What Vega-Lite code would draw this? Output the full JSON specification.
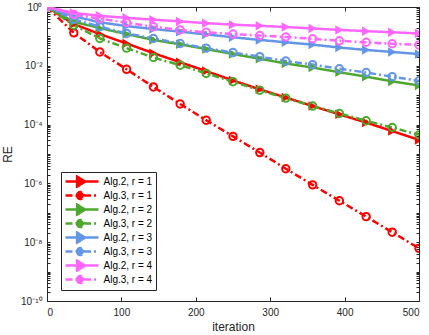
{
  "$schema": "https://vega.github.io/schema/vega-lite/v6.json",
  "width": 372,
  "height": 294,
  "autosize": "none",
  "padding": {"left": 47, "top": 7, "right": 10, "bottom": 34},
  "background": "white",
  "config": {
    "view": {"stroke": "#262626", "strokeWidth": 1},
    "font": "Liberation Sans",
    "axis": {"labelFont": "Liberation Sans", "titleFont": "Liberation Sans", "labelColor": "#262626", "titleColor": "#262626", "tickColor": "#262626", "grid": false, "domain": false, "labelFontSize": 10, "titleFontSize": 12, "titleFontWeight": "normal", "labelOverlap": false}
  },
  "data": {"values": [
    {"s":"Alg.2, r = 1","a":2,"i":0,"v":1},{"s":"Alg.2, r = 1","a":2,"i":36,"v":0.263},{"s":"Alg.2, r = 1","a":2,"i":71,"v":0.12},{"s":"Alg.2, r = 1","a":2,"i":107,"v":0.0575},{"s":"Alg.2, r = 1","a":2,"i":143,"v":0.0269},{"s":"Alg.2, r = 1","a":2,"i":179,"v":0.0132},{"s":"Alg.2, r = 1","a":2,"i":214,"v":0.00661},{"s":"Alg.2, r = 1","a":2,"i":250,"v":0.00316},{"s":"Alg.2, r = 1","a":2,"i":286,"v":0.00158},{"s":"Alg.2, r = 1","a":2,"i":321,"v":0.000832},{"s":"Alg.2, r = 1","a":2,"i":357,"v":0.000427},{"s":"Alg.2, r = 1","a":2,"i":393,"v":0.000224},{"s":"Alg.2, r = 1","a":2,"i":429,"v":0.000117},{"s":"Alg.2, r = 1","a":2,"i":464,"v":0.0000603},{"s":"Alg.2, r = 1","a":2,"i":500,"v":0.0000302},
    {"s":"Alg.3, r = 1","a":3,"i":0,"v":1},{"s":"Alg.3, r = 1","a":3,"i":36,"v":0.132},{"s":"Alg.3, r = 1","a":3,"i":71,"v":0.0295},{"s":"Alg.3, r = 1","a":3,"i":107,"v":0.00759},{"s":"Alg.3, r = 1","a":3,"i":143,"v":0.00191},{"s":"Alg.3, r = 1","a":3,"i":179,"v":0.000501},{"s":"Alg.3, r = 1","a":3,"i":214,"v":0.000141},{"s":"Alg.3, r = 1","a":3,"i":250,"v":0.0000398},{"s":"Alg.3, r = 1","a":3,"i":286,"v":0.0000112},{"s":"Alg.3, r = 1","a":3,"i":321,"v":0.00000316},{"s":"Alg.3, r = 1","a":3,"i":357,"v":8.91e-7},{"s":"Alg.3, r = 1","a":3,"i":393,"v":2.57e-7},{"s":"Alg.3, r = 1","a":3,"i":429,"v":7.41e-8},{"s":"Alg.3, r = 1","a":3,"i":464,"v":2.19e-8},{"s":"Alg.3, r = 1","a":3,"i":500,"v":6.17e-9},
    {"s":"Alg.2, r = 2","a":2,"i":0,"v":1},{"s":"Alg.2, r = 2","a":2,"i":36,"v":0.316},{"s":"Alg.2, r = 2","a":2,"i":71,"v":0.191},{"s":"Alg.2, r = 2","a":2,"i":107,"v":0.12},{"s":"Alg.2, r = 2","a":2,"i":143,"v":0.0759},{"s":"Alg.2, r = 2","a":2,"i":179,"v":0.0537},{"s":"Alg.2, r = 2","a":2,"i":214,"v":0.0372},{"s":"Alg.2, r = 2","a":2,"i":250,"v":0.0251},{"s":"Alg.2, r = 2","a":2,"i":286,"v":0.0174},{"s":"Alg.2, r = 2","a":2,"i":321,"v":0.012},{"s":"Alg.2, r = 2","a":2,"i":357,"v":0.00871},{"s":"Alg.2, r = 2","a":2,"i":393,"v":0.00603},{"s":"Alg.2, r = 2","a":2,"i":429,"v":0.00427},{"s":"Alg.2, r = 2","a":2,"i":464,"v":0.00295},{"s":"Alg.2, r = 2","a":2,"i":500,"v":0.00214},
    {"s":"Alg.3, r = 2","a":3,"i":0,"v":1},{"s":"Alg.3, r = 2","a":3,"i":36,"v":0.24},{"s":"Alg.3, r = 2","a":3,"i":71,"v":0.0851},{"s":"Alg.3, r = 2","a":3,"i":107,"v":0.0398},{"s":"Alg.3, r = 2","a":3,"i":143,"v":0.0191},{"s":"Alg.3, r = 2","a":3,"i":179,"v":0.0105},{"s":"Alg.3, r = 2","a":3,"i":214,"v":0.0055},{"s":"Alg.3, r = 2","a":3,"i":250,"v":0.00288},{"s":"Alg.3, r = 2","a":3,"i":286,"v":0.00148},{"s":"Alg.3, r = 2","a":3,"i":321,"v":0.000794},{"s":"Alg.3, r = 2","a":3,"i":357,"v":0.000427},{"s":"Alg.3, r = 2","a":3,"i":393,"v":0.00024},{"s":"Alg.3, r = 2","a":3,"i":429,"v":0.000135},{"s":"Alg.3, r = 2","a":3,"i":464,"v":0.0000794},{"s":"Alg.3, r = 2","a":3,"i":500,"v":0.0000447},
    {"s":"Alg.2, r = 3","a":2,"i":0,"v":1},{"s":"Alg.2, r = 3","a":2,"i":36,"v":0.479},{"s":"Alg.2, r = 3","a":2,"i":71,"v":0.302},{"s":"Alg.2, r = 3","a":2,"i":107,"v":0.224},{"s":"Alg.2, r = 3","a":2,"i":143,"v":0.178},{"s":"Alg.2, r = 3","a":2,"i":179,"v":0.145},{"s":"Alg.2, r = 3","a":2,"i":214,"v":0.117},{"s":"Alg.2, r = 3","a":2,"i":250,"v":0.0933},{"s":"Alg.2, r = 3","a":2,"i":286,"v":0.0759},{"s":"Alg.2, r = 3","a":2,"i":321,"v":0.0631},{"s":"Alg.2, r = 3","a":2,"i":357,"v":0.0525},{"s":"Alg.2, r = 3","a":2,"i":393,"v":0.0417},{"s":"Alg.2, r = 3","a":2,"i":429,"v":0.0347},{"s":"Alg.2, r = 3","a":2,"i":464,"v":0.0295},{"s":"Alg.2, r = 3","a":2,"i":500,"v":0.0251},
    {"s":"Alg.3, r = 3","a":3,"i":0,"v":1},{"s":"Alg.3, r = 3","a":3,"i":36,"v":0.38},{"s":"Alg.3, r = 3","a":3,"i":71,"v":0.214},{"s":"Alg.3, r = 3","a":3,"i":107,"v":0.126},{"s":"Alg.3, r = 3","a":3,"i":143,"v":0.0851},{"s":"Alg.3, r = 3","a":3,"i":179,"v":0.0575},{"s":"Alg.3, r = 3","a":3,"i":214,"v":0.0398},{"s":"Alg.3, r = 3","a":3,"i":250,"v":0.0282},{"s":"Alg.3, r = 3","a":3,"i":286,"v":0.0204},{"s":"Alg.3, r = 3","a":3,"i":321,"v":0.0145},{"s":"Alg.3, r = 3","a":3,"i":357,"v":0.011},{"s":"Alg.3, r = 3","a":3,"i":393,"v":0.00794},{"s":"Alg.3, r = 3","a":3,"i":429,"v":0.00589},{"s":"Alg.3, r = 3","a":3,"i":464,"v":0.00427},{"s":"Alg.3, r = 3","a":3,"i":500,"v":0.00309},
    {"s":"Alg.2, r = 4","a":2,"i":0,"v":1},{"s":"Alg.2, r = 4","a":2,"i":36,"v":0.631},{"s":"Alg.2, r = 4","a":2,"i":71,"v":0.501},{"s":"Alg.2, r = 4","a":2,"i":107,"v":0.427},{"s":"Alg.2, r = 4","a":2,"i":143,"v":0.372},{"s":"Alg.2, r = 4","a":2,"i":179,"v":0.324},{"s":"Alg.2, r = 4","a":2,"i":214,"v":0.282},{"s":"Alg.2, r = 4","a":2,"i":250,"v":0.251},{"s":"Alg.2, r = 4","a":2,"i":286,"v":0.229},{"s":"Alg.2, r = 4","a":2,"i":321,"v":0.209},{"s":"Alg.2, r = 4","a":2,"i":357,"v":0.186},{"s":"Alg.2, r = 4","a":2,"i":393,"v":0.166},{"s":"Alg.2, r = 4","a":2,"i":429,"v":0.151},{"s":"Alg.2, r = 4","a":2,"i":464,"v":0.138},{"s":"Alg.2, r = 4","a":2,"i":500,"v":0.126},
    {"s":"Alg.3, r = 4","a":3,"i":0,"v":1},{"s":"Alg.3, r = 4","a":3,"i":36,"v":0.562},{"s":"Alg.3, r = 4","a":3,"i":71,"v":0.398},{"s":"Alg.3, r = 4","a":3,"i":107,"v":0.295},{"s":"Alg.3, r = 4","a":3,"i":143,"v":0.214},{"s":"Alg.3, r = 4","a":3,"i":179,"v":0.166},{"s":"Alg.3, r = 4","a":3,"i":214,"v":0.138},{"s":"Alg.3, r = 4","a":3,"i":250,"v":0.12},{"s":"Alg.3, r = 4","a":3,"i":286,"v":0.107},{"s":"Alg.3, r = 4","a":3,"i":321,"v":0.0955},{"s":"Alg.3, r = 4","a":3,"i":357,"v":0.0832},{"s":"Alg.3, r = 4","a":3,"i":393,"v":0.0708},{"s":"Alg.3, r = 4","a":3,"i":429,"v":0.0631},{"s":"Alg.3, r = 4","a":3,"i":464,"v":0.0562},{"s":"Alg.3, r = 4","a":3,"i":500,"v":0.0513}
  ]},
  "resolve": {"axis": {"x": "independent", "y": "independent"}},
  "layer": [
    {
      "mark": {"type": "line", "strokeWidth": 2.5, "clip": true},
      "encoding": {
        "x": {"field": "i", "type": "quantitative", "scale": {"domain": [0, 500], "nice": false}, "axis": {"title": "iteration", "values": [0,100,200,300,400,500], "tickSize": -4, "labelPadding": 10, "titlePadding": 4}},
        "y": {"field": "v", "type": "quantitative", "scale": {"type": "log", "domain": [1e-10, 1], "nice": false}, "axis": {"title": "RE", "tickSize": -3, "labelPadding": 8, "titlePadding": 6,
          "values": [1e-10,2e-10,3e-10,4e-10,5e-10,6e-10,7e-10,8e-10,9e-10,1e-9,2e-9,3e-9,4e-9,5e-9,6e-9,7e-9,8e-9,9e-9,1e-8,2e-8,3e-8,4e-8,5e-8,6e-8,7e-8,8e-8,9e-8,1e-7,2e-7,3e-7,4e-7,5e-7,6e-7,7e-7,8e-7,9e-7,1e-6,2e-6,3e-6,4e-6,5e-6,6e-6,7e-6,8e-6,9e-6,1e-5,2e-5,3e-5,4e-5,5e-5,6e-5,7e-5,8e-5,9e-5,1e-4,2e-4,3e-4,4e-4,5e-4,6e-4,7e-4,8e-4,9e-4,1e-3,2e-3,3e-3,4e-3,5e-3,6e-3,7e-3,8e-3,9e-3,1e-2,2e-2,3e-2,4e-2,5e-2,6e-2,7e-2,8e-2,9e-2,0.1,0.2,0.3,0.4,0.5,0.6,0.7,0.8,0.9,1],
          "labelExpr": "(abs(log(datum.value)/LN10 - round(log(datum.value)/LN10)) < 1e-6 && round(log(datum.value)/LN10) % 2 == 0) ? '10' + ['⁰','⁻²','⁻⁴','⁻⁶','⁻⁸','⁻¹⁰'][-round(log(datum.value)/LN10)/2] : ''"}},
        "color": {"field": "s", "type": "nominal",
          "scale": {"domain": ["Alg.2, r = 1","Alg.3, r = 1","Alg.2, r = 2","Alg.3, r = 2","Alg.2, r = 3","Alg.3, r = 3","Alg.2, r = 4","Alg.3, r = 4"],
                    "range": ["#FF0000","#FF0000","#4EA72E","#4EA72E","#6496E8","#6496E8","#FF66FF","#FF66FF"]},
          "legend": {"orient": "none", "legendX": 14, "legendY": 165, "title": null, "direction": "vertical", "fillColor": "white", "strokeColor": "#262626", "padding": 3, "labelFontSize": 10, "labelFont": "Liberation Sans", "labelColor": "black", "symbolSize": 64, "rowPadding": 0, "clipHeight": 13.2, "labelOffset": 28.5, "symbolStrokeWidth": 2.5,
            "encode": {"symbols": {"update": {
              "shape": {"signal": "indexof(datum.value, 'Alg.2') == 0 ? 'M-1,0L7.25,0M1.9,-1.25L3.9,0L1.9,1.25Z' : 'M-1,0L1.875,0M3.625,0L7.25,0M1.875,0A0.875,0.875 0 1,0 3.625,0A0.875,0.875 0 1,0 1.875,0'"},
              "fill": {"signal": "indexof(datum.value, 'Alg.2') == 0 ? scale('color', datum.value) : 'white'"},
              "strokeDash": {"signal": "indexof(datum.value, 'Alg.2') == 0 ? [1,0] : [6,3,2,3]"},
              "strokeWidth": {"value": 2.5},
              "opacity": {"value": 1}
            }}}}},
        "strokeDash": {"field": "s", "type": "nominal", "legend": null,
          "scale": {"domain": ["Alg.2, r = 1","Alg.3, r = 1","Alg.2, r = 2","Alg.3, r = 2","Alg.2, r = 3","Alg.3, r = 3","Alg.2, r = 4","Alg.3, r = 4"],
                    "range": [[1,0],[7,3,2,3],[1,0],[7,3,2,3],[1,0],[7,3,2,3],[1,0],[7,3,2,3]]}}
      }
    },
    {
      "transform": [{"filter": "datum.a == 2"}],
      "mark": {"type": "point", "shape": "triangle-right", "filled": true, "size": 90, "opacity": 1, "clip": true},
      "encoding": {
        "x": {"field": "i", "type": "quantitative", "axis": null},
        "y": {"field": "v", "type": "quantitative", "axis": null},
        "color": {"field": "s", "type": "nominal", "legend": null}
      }
    },
    {
      "transform": [{"filter": "datum.a == 3"}],
      "mark": {"type": "point", "shape": "circle", "filled": false, "size": 55, "strokeWidth": 2, "opacity": 1, "clip": true},
      "encoding": {
        "x": {"field": "i", "type": "quantitative", "axis": null},
        "y": {"field": "v", "type": "quantitative", "axis": null},
        "color": {"field": "s", "type": "nominal", "legend": null}
      }
    },
    {
      "mark": {"type": "line", "opacity": 0},
      "encoding": {
        "x": {"field": "i", "type": "quantitative", "axis": {"orient": "top", "title": null, "labels": false, "values": [0,100,200,300,400,500], "tickSize": -4}},
        "y": {"field": "v", "type": "quantitative", "axis": {"orient": "right", "title": null, "labels": false, "tickSize": -3,
          "values": [1e-10,2e-10,3e-10,4e-10,5e-10,6e-10,7e-10,8e-10,9e-10,1e-9,2e-9,3e-9,4e-9,5e-9,6e-9,7e-9,8e-9,9e-9,1e-8,2e-8,3e-8,4e-8,5e-8,6e-8,7e-8,8e-8,9e-8,1e-7,2e-7,3e-7,4e-7,5e-7,6e-7,7e-7,8e-7,9e-7,1e-6,2e-6,3e-6,4e-6,5e-6,6e-6,7e-6,8e-6,9e-6,1e-5,2e-5,3e-5,4e-5,5e-5,6e-5,7e-5,8e-5,9e-5,1e-4,2e-4,3e-4,4e-4,5e-4,6e-4,7e-4,8e-4,9e-4,1e-3,2e-3,3e-3,4e-3,5e-3,6e-3,7e-3,8e-3,9e-3,1e-2,2e-2,3e-2,4e-2,5e-2,6e-2,7e-2,8e-2,9e-2,0.1,0.2,0.3,0.4,0.5,0.6,0.7,0.8,0.9,1]}},
        "detail": {"field": "s"}
      }
    }
  ]
}
